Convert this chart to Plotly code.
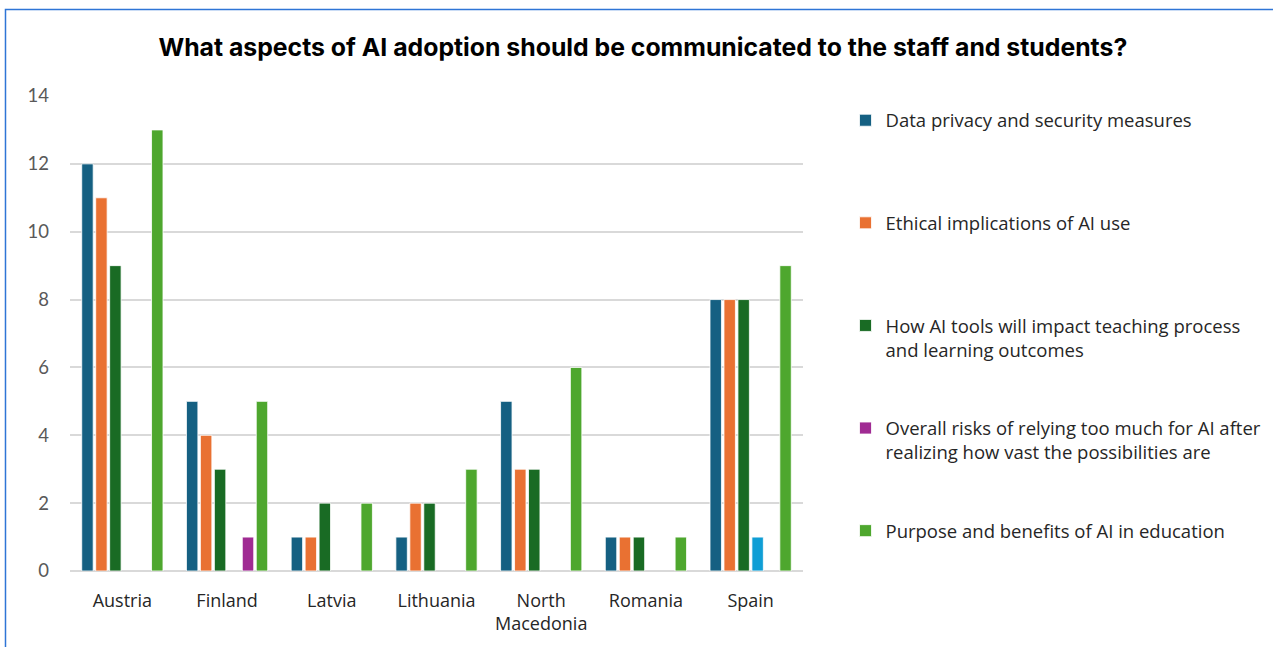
import plotly.graph_objects as go

countries = ["Austria", "Finland", "Latvia", "Lithuania", "North<br>Macedonia", "Romania", "Spain"]

data_privacy = [12, 5, 1, 1, 5, 1, 8]
ethical = [11, 4, 1, 2, 3, 1, 8]
teaching_impact = [9, 3, 2, 2, 3, 1, 8]
unlabeled = [None, None, None, None, None, None, 1]
overall_risks = [None, 1, None, None, None, None, None]
purpose = [13, 5, 2, 3, 6, 1, 9]

# single-line names get a blank second line so every legend entry has equal height
series = [
    ("Data privacy and security measures<br> ", data_privacy, "#156082", True),
    ("Ethical implications of AI use<br> ", ethical, "#E97132", True),
    ("How AI tools will impact teaching process<br>and learning outcomes", teaching_impact, "#196B24", True),
    ("", unlabeled, "#0F9ED5", False),
    ("Overall risks of relying too much for AI after<br>realizing how vast the possibilities are", overall_risks, "#A02B93", True),
    ("Purpose and benefits of AI in education<br> ", purpose, "#4EA72E", True),
]

fig = go.Figure()
for i, (name, vals, color, show) in enumerate(series):
    fig.add_trace(go.Bar(
        x=countries, y=vals, name=name,
        marker=dict(color=color, line=dict(color="white", width=0.8)),
        showlegend=show, legendgroup=f"g{i}",
    ))

text_font = "'Open Sans', Lato, sans-serif"

fig.update_layout(
    width=1273, height=647,
    paper_bgcolor="white", plot_bgcolor="white",
    margin=dict(l=70, r=470, t=96, b=76, autoexpand=False),
    barmode="group", bargap=0.2, bargroupgap=0.18,
    title=dict(
        text="<b>What aspects of AI adoption should be communicated to the staff and students?</b>",
        x=0.505, xanchor="center", y=0.927, yanchor="middle",
        font=dict(family="Inter, 'Liberation Sans', sans-serif", size=24.8, color="#000000"),
    ),
    font=dict(family=text_font, color="#404040"),
    legend=dict(
        x=1.058, xanchor="left", y=0.988, yanchor="top",
        font=dict(family=text_font, size=18.5, color="#262626"),
        traceorder="grouped", tracegroupgap=51.5, valign="top",
        itemwidth=30, bgcolor="rgba(0,0,0,0)", maxheight=640,
    ),
    xaxis=dict(
        showgrid=False, showline=False, ticks="",
        tickfont=dict(family=text_font, size=18, color="#262626"),
        ticklabelstandoff=17,
    ),
    yaxis=dict(
        range=[0, 14], dtick=2, showgrid=True, gridcolor="#D9D9D9", gridwidth=1.5,
        zeroline=True, zerolinecolor="#D9D9D9", zerolinewidth=1.5,
        tickfont=dict(family="Lato, sans-serif", size=18.5, color="#595959"),
        ticks="", ticklabelstandoff=20,
    ),
    shapes=[dict(
        type="rect", xref="paper", yref="paper",
        x0=-0.0880, x1=1.7, y0=-0.3, y1=1.182,
        line=dict(color="#2E75D6", width=1.5), fillcolor="rgba(0,0,0,0)", layer="below",
    )],
)

fig.write_html("out.html")
